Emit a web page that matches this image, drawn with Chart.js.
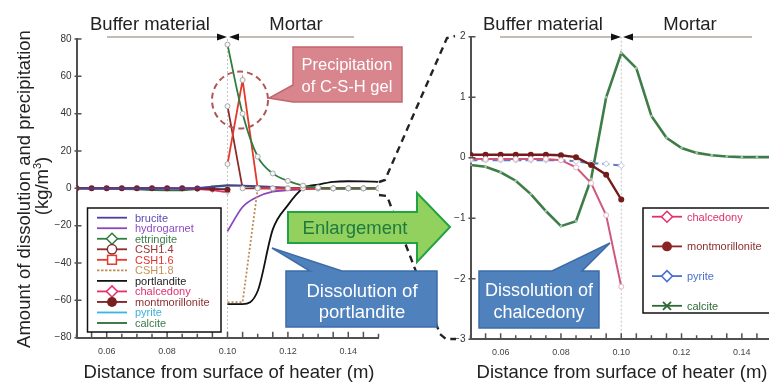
<!DOCTYPE html>
<html>
<head>
<meta charset="utf-8">
<script src="https://cdn.jsdelivr.net/npm/chart.js@4.4.1/dist/chart.umd.min.js"></script>
<style>
html, body { margin: 0; padding: 0; background: #fff; }
#wrap { position: relative; width: 769px; height: 383px; overflow: hidden; }
canvas { position: absolute; top: 0; }
#left { left: 0; }
#right { left: 400px; }
#over { position: absolute; left: 0; top: 0; }
#over text { font-family: "Liberation Sans", Arial, sans-serif; }
</style>
</head>
<body>
<div id="wrap">
  <canvas id="left" width="400" height="383"></canvas>
  <canvas id="right" width="380" height="383"></canvas>
  <svg id="over" width="769" height="383" xmlns="http://www.w3.org/2000/svg">
    <!-- zoom lines -->
    <path d="M379,182 L385,180 L447,38 L455,36" fill="none" stroke="#222" stroke-width="2.4" stroke-dasharray="7,5"/>
    <path d="M379,195 L387,196 L440,334 L446,339 L456,339" fill="none" stroke="#222" stroke-width="2.4" stroke-dasharray="7,5"/>

    <!-- region headers -->
    <text x="150" y="30" font-size="18.5" text-anchor="middle" fill="#222">Buffer material</text>
    <text x="296" y="30" font-size="18.5" text-anchor="middle" fill="#222">Mortar</text>
    <text x="543" y="30" font-size="18.5" text-anchor="middle" fill="#222">Buffer material</text>
    <text x="690" y="30" font-size="18.5" text-anchor="middle" fill="#222">Mortar</text>
    <g stroke="#c4bcb4" stroke-width="2">
      <line x1="107" y1="37" x2="217" y2="37"/>
      <line x1="239" y1="37" x2="354" y2="37"/>
      <line x1="500" y1="37" x2="612" y2="37"/>
      <line x1="632" y1="37" x2="752" y2="37"/>
    </g>
    <g fill="#111">
      <polygon points="217,33.5 227,37 217,40.5"/>
      <polygon points="239,33.5 229,37 239,40.5"/>
      <polygon points="611,33.5 621,37 611,40.5"/>
      <polygon points="633,33.5 623,37 633,40.5"/>
    </g>

    <!-- axis titles -->
    <text transform="translate(30,189) rotate(-90)" font-size="18.5" text-anchor="middle" fill="#222">Amount of dissolution and precipitation</text>
    <text transform="translate(48,186) rotate(-90)" font-size="18.5" text-anchor="middle" fill="#222">(kg/m<tspan font-size="11" dy="-7">3</tspan><tspan dy="7">)</tspan></text>
    <text x="229" y="378" font-size="18.5" text-anchor="middle" fill="#222">Distance from surface of heater (m)</text>
    <text x="622" y="378" font-size="18.5" text-anchor="middle" fill="#222">Distance from surface of heater (m)</text>

    <!-- C-S-H callout -->
    <ellipse cx="240" cy="100" rx="28" ry="28.5" fill="none" stroke="#b05858" stroke-width="2" stroke-dasharray="6,4"/>
    <path d="M293,47 L402,47 L402,102 L293,102 L269,98 L293,85 Z" fill="#d8858d" stroke="#c2656d" stroke-width="1.5"/>
    <text x="347" y="70" font-size="16.5" text-anchor="middle" fill="#fff">Precipitation</text>
    <text x="347" y="92" font-size="16.5" text-anchor="middle" fill="#fff">of C-S-H gel</text>

    <!-- Enlargement arrow -->
    <path d="M288,212 L417,212 L417,193 L450,227 L417,262 L417,243 L288,243 Z" fill="#92d15e" stroke="#21a345" stroke-width="2"/>
    <text x="355" y="234" font-size="18.5" text-anchor="middle" fill="#1e7a3e">Enlargement</text>

    <!-- portlandite callout -->
    <path d="M286,271 L310,271 L272,248 L342,271 L437,271 L437,327 L286,327 Z" fill="#4f81bd" stroke="#3d6ca6" stroke-width="1.5"/>
    <text x="362" y="297" font-size="18.5" text-anchor="middle" fill="#fff">Dissolution of</text>
    <text x="362" y="318" font-size="18.5" text-anchor="middle" fill="#fff">portlandite</text>

    <!-- chalcedony callout -->
    <path d="M479,271 L552,271 L610,243 L582,271 L599,271 L599,328 L479,328 Z" fill="#4f81bd" stroke="#3d6ca6" stroke-width="1.5"/>
    <text x="539" y="296" font-size="18" text-anchor="middle" fill="#fff">Dissolution of</text>
    <text x="539" y="318" font-size="18" text-anchor="middle" fill="#fff">chalcedony</text>

    <!-- legends -->
    <rect x="87.5" y="208" width="133.5" height="124" fill="#fff" stroke="#111" stroke-width="1.5"/>
    <g id="legL"></g>
    <rect x="643" y="208" width="140" height="105" fill="#fff" stroke="#111" stroke-width="1.5"/>
    <g id="legR"></g>
  </svg>
</div>
<script>
// distance from heater surface (m)
const X = [0.05, 0.055, 0.06, 0.065, 0.07, 0.075, 0.08, 0.085, 0.09, 0.095, 0.10,
           0.105, 0.11, 0.115, 0.12, 0.125, 0.13, 0.135, 0.14, 0.145, 0.15];
const X_TICK_LABELS = ['0.06', '0.08', '0.10', '0.12', '0.14'];
const LEFT_Y_TICKS = [-80, -60, -40, -20, 0, 20, 40, 60, 80];
const RIGHT_Y_TICKS = [-3, -2, -1, 0, 1, 2];
const BOUNDARY_X = 0.10;

// left chart (kg/m3)
const brucite =        [0, 0, 0, 0, 0, 0, 0, 0, 0.3, 0.8, 1.5, 1.5, 1.2, 0.8, 0.4, 0.2, 0.1, 0, 0, 0, 0];
const hydrogarnet =    [null, null, null, null, null, null, null, null, null, null, -23, -10, -4.5, -1.8, -1, -0.5, -0.2, 0, 0, 0, 0];
const ettringite =     [null, null, null, null, null, null, null, null, null, null, 77, 40, 17, 8, 4, 1.5, 0.5, 0, 0, 0, 0];
const csh14 =          [null, null, null, null, null, null, null, null, null, null, 44, 0, 0, 0, 0, 0, 0, 0, 0, 0, 0];
const csh16 =          [null, null, null, null, null, null, null, null, null, null, 13, 58, 0, 0, 0, 0, 0, 0, 0, 0, 0];
const csh18 =          [null, null, null, null, null, null, null, null, null, null, -61, -61, 0, 0, 0, 0, 0, 0, 0, 0, 0];
const portlandite =    [null, null, null, null, null, null, null, null, null, null, -62, -62, -55, -22, -9, 0, 2, 3.5, 3.8, 3.7, 3.5];

// right chart (enlargement, kg/m3)
const chalcedony =     [-0.02, -0.02, -0.02, -0.02, -0.02, -0.02, -0.04, -0.16, -0.42, -0.95, -2.13];
const montmorillonite =[0.05, 0.05, 0.05, 0.05, 0.05, 0.05, 0.04, 0.01, -0.12, -0.28, -0.69];
const pyrite =         [-0.04, -0.04, -0.04, -0.04, -0.04, -0.04, -0.04, -0.06, -0.09, -0.1, -0.13];
const calcite =        [-0.12, -0.15, -0.24, -0.38, -0.6, -0.88, -1.13, -1.05, -0.35, 1.0, 1.73,
                        1.48, 0.69, 0.33, 0.16, 0.08, 0.04, 0.02, 0.01, 0.01, 0.01];

Chart.defaults.font.family = '"Liberation Sans", Arial, sans-serif';

function pts(arr) {
  return arr.map(function (y, i) { return { x: X[i], y: y }; });
}

function fmt(v) {
  return v < 0 ? '\u2212' + (-v) : String(v);
}

const decor = {
  id: 'decor',
  beforeDatasetsDraw(chart) {
    const ctx = chart.ctx, a = chart.chartArea;
    const px = chart.scales.x.getPixelForValue(BOUNDARY_X);
    ctx.save();
    ctx.strokeStyle = '#c4c4c4';
    ctx.lineWidth = 1;
    ctx.setLineDash([2, 2]);
    ctx.beginPath();
    ctx.moveTo(px, a.top);
    ctx.lineTo(px, a.bottom);
    ctx.stroke();
    ctx.restore();
  },
  afterDraw(chart, args, opts) {
    const ctx = chart.ctx, a = chart.chartArea;
    const xs = chart.scales.x, ys = chart.scales.y;
    ctx.save();
    ctx.strokeStyle = '#505050';
    ctx.lineWidth = 1.5;
    ctx.beginPath();
    X.forEach(function (v) {
      const px = xs.getPixelForValue(v);
      const len = X_TICK_LABELS.indexOf(v.toFixed(2)) >= 0 ? 6 : 4;
      ctx.moveTo(px, a.bottom);
      ctx.lineTo(px, a.bottom - len);
    });
    opts.yTicks.forEach(function (v) {
      const py = ys.getPixelForValue(v);
      ctx.moveTo(a.left - 2, py);
      ctx.lineTo(a.left + 5, py);
    });
    ctx.stroke();
    ctx.restore();
  }
};

function xScale(h) {
  return {
    type: 'linear', min: 0.05, max: 0.15,
    afterFit: function (s) { s.height = h; },
    grid: { drawOnChartArea: false, drawTicks: false },
    border: { display: true, color: '#505050', width: 2 },
    ticks: {
      stepSize: 0.01, autoSkip: false, maxRotation: 0, padding: 8,
      color: '#444', font: { size: 9 },
      callback: function (v) {
        const l = X_TICK_LABELS.find(function (t) { return Math.abs(parseFloat(t) - v) < 1e-6; });
        return l || '';
      }
    }
  };
}

function yScale(w, min, max, step, list) {
  return {
    min: min, max: max,
    afterFit: function (s) { s.width = w; },
    grid: { drawOnChartArea: false, drawTicks: false },
    border: { display: true, color: '#505050', width: 2 },
    ticks: {
      stepSize: step, autoSkip: false, padding: 5,
      color: '#333', font: { size: 10 },
      callback: function (v) { return list.indexOf(v) >= 0 ? fmt(v) : ''; }
    }
  };
}

const hollowGray = { pointRadius: 2.5, pointBorderWidth: 1, pointBorderColor: '#a9a9a9', pointBackgroundColor: '#f6f6f6' };

// series style table: label, data, colour, legend marker
const leftSeries = [
  { label: 'brucite', data: brucite, color: '#4a3f9f', text: '#5a4ab0', mark: null },
  { label: 'hydrogarnet', data: hydrogarnet, color: '#8a46c0', text: '#8e4bc6', mark: null, smooth: true },
  { label: 'ettringite', data: ettringite, color: '#2f7d3f', text: '#3a7d48', mark: 'diamond', pt: hollowGray, smooth: true },
  { label: 'CSH1.4', data: csh14, color: '#8b2c2c', text: '#a03535', mark: 'circle', pt: hollowGray },
  { label: 'CSH1.6', data: csh16, color: '#e23b2b', text: '#e0312f', mark: 'square', pt: hollowGray },
  { label: 'CSH1.8', data: csh18, color: '#c08b55', text: '#c4905a', mark: null, dash: [2, 2] },
  { label: 'portlandite', data: portlandite, color: '#111111', text: '#222222', mark: null, smooth: true },
  { label: 'chalcedony', data: chalcedony, color: '#e6306b', text: '#e3306c', mark: 'diamond',
    pt: { pointStyle: 'rectRot', pointRadius: 2.5, pointBorderWidth: 1, pointBorderColor: '#b0b0b0', pointBackgroundColor: '#f6f6f6' } },
  { label: 'montmorillonite', data: montmorillonite, color: '#7b1e1e', text: '#8b2f2f', mark: 'dot',
    pt: { pointRadius: 3, pointBorderWidth: 0, pointBackgroundColor: '#7b1e1e' } },
  { label: 'pyrite', data: pyrite, color: '#37b7dc', text: '#3ab2da', mark: null },
  { label: 'calcite', data: calcite, color: '#2d6e39', text: '#3a7a46', mark: null }
];

const leftOrder = ['ettringite', 'CSH1.6', 'CSH1.4', 'portlandite', 'CSH1.8', 'hydrogarnet', 'brucite',
                   'montmorillonite', 'chalcedony', 'pyrite', 'calcite'];

const leftDatasets = leftOrder.map(function (name) {
  const s = leftSeries.find(function (d) { return d.label === name; });
  return Object.assign({
    label: s.label, data: pts(s.data), borderColor: s.color, backgroundColor: s.color,
    borderWidth: 1.8, pointRadius: 0, borderDash: s.dash || [],
    cubicInterpolationMode: s.smooth ? 'monotone' : 'default', tension: 0
  }, s.pt || {});
});

new Chart(document.getElementById('left'), {
  type: 'line',
  data: { datasets: leftDatasets },
  options: {
    responsive: false, animation: false, devicePixelRatio: 1,
    layout: { padding: { top: 39, right: 21.5, left: 0, bottom: 0 } },
    plugins: { legend: { display: false }, tooltip: { enabled: false }, decor: { yTicks: LEFT_Y_TICKS } },
    scales: { x: xScale(45.3), y: yScale(76.5, -80, 80, 20, LEFT_Y_TICKS) }
  },
  plugins: [decor]
});

const rightSeries = [
  { label: 'chalcedony', data: chalcedony, color: '#d0587c', legColor: '#e0306a', text: '#e0306a', mark: 'diamond',
    ds: { borderWidth: 2, pointRadius: 2.5, pointBorderWidth: 1, pointBorderColor: '#e2b6c2', pointBackgroundColor: '#ffffff' } },
  { label: 'montmorillonite', data: montmorillonite, color: '#741c1c', legColor: '#8b2424', text: '#8b2f2f', mark: 'dot',
    ds: { borderWidth: 2.4, pointRadius: 3, pointBorderWidth: 0, pointBackgroundColor: '#741c1c' } },
  { label: 'pyrite', data: pyrite, color: '#6078c4', legColor: '#4a6fd0', text: '#4a6fd0', mark: 'diamond',
    ds: { borderWidth: 2, borderDash: [7, 4], pointStyle: 'rectRot', pointRadius: 3, pointBorderWidth: 1,
          pointBorderColor: '#b8c0dc', pointBackgroundColor: '#ffffff' } },
  { label: 'calcite', data: calcite, color: '#3f7d48', legColor: '#2d6a33', text: '#2d6a33', mark: 'cross',
    ds: { borderWidth: 2.6, pointRadius: 1.3, pointBorderWidth: 0, pointBackgroundColor: '#a8c4aa' } }
];

new Chart(document.getElementById('right'), {
  type: 'line',
  data: {
    datasets: rightSeries.map(function (s) {
      return Object.assign({ label: s.label, data: pts(s.data), borderColor: s.color, backgroundColor: s.color, tension: 0 }, s.ds);
    })
  },
  options: {
    responsive: false, animation: false, devicePixelRatio: 1,
    layout: { padding: { top: 36.7, right: 6.5, left: 0, bottom: 0 } },
    plugins: { legend: { display: false }, tooltip: { enabled: false }, decor: { yTicks: RIGHT_Y_TICKS } },
    scales: { x: xScale(43.7), y: yScale(70.5, -3, 2, 1, RIGHT_Y_TICKS) }
  },
  plugins: [decor]
});

// legends drawn as svg symbols + text
const NS = 'http://www.w3.org/2000/svg';
function el(tag, attrs, parent) {
  const e = document.createElementNS(NS, tag);
  Object.keys(attrs).forEach(function (k) { e.setAttribute(k, attrs[k]); });
  parent.appendChild(e);
  return e;
}
function marker(g, kind, cx, cy, color, r) {
  if (kind === 'diamond') {
    el('polygon', { points: [cx - r, cy, cx, cy - r, cx + r, cy, cx, cy + r].join(' '), fill: '#fff', stroke: color, 'stroke-width': 1.5 }, g);
  } else if (kind === 'circle') {
    el('circle', { cx: cx, cy: cy, r: r * 0.85, fill: '#fff', stroke: color, 'stroke-width': 1.5 }, g);
  } else if (kind === 'square') {
    el('rect', { x: cx - r * 0.8, y: cy - r * 0.8, width: r * 1.6, height: r * 1.6, fill: '#fff', stroke: color, 'stroke-width': 1.5 }, g);
  } else if (kind === 'dot') {
    el('circle', { cx: cx, cy: cy, r: r * 0.9, fill: color }, g);
  } else if (kind === 'cross') {
    el('path', { d: 'M' + (cx - 4) + ',' + (cy - 4) + 'L' + (cx + 4) + ',' + (cy + 4) + 'M' + (cx + 4) + ',' + (cy - 4) + 'L' + (cx - 4) + ',' + (cy + 4), stroke: color, 'stroke-width': 1.8 }, g);
  }
}
function legend(id, list, x0, x1, tx, y0, dy, r) {
  const g = document.getElementById(id);
  list.forEach(function (s, i) {
    const y = y0 + i * dy;
    const c = s.legColor || s.color;
    const ln = el('line', { x1: x0, y1: y, x2: x1, y2: y, stroke: c, 'stroke-width': 1.8 }, g);
    if (s.dash) ln.setAttribute('stroke-dasharray', '2.5,1.5');
    if (s.mark) marker(g, s.mark, (x0 + x1) / 2, y, c, r);
    const t = el('text', { x: tx, y: y + 4, 'font-size': 11, fill: s.text }, g);
    t.textContent = s.label;
  });
}
legend('legL', leftSeries, 97, 127, 135, 217.7, 10.53, 5.5);
legend('legR', rightSeries, 652, 682, 687, 216.7, 29.7, 5.5);
</script>
</body>
</html>
